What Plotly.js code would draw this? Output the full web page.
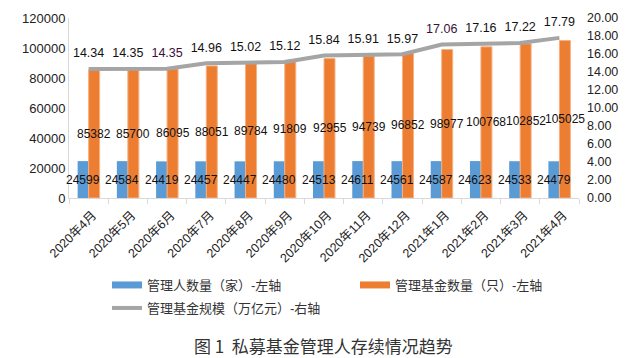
<!DOCTYPE html>
<html>
<head>
<meta charset="utf-8">
<script src="https://cdn.plot.ly/plotly-3.0.1.min.js"></script>
<style>html,body{margin:0;padding:0;background:#fff;}#chart{width:643px;height:358px;}</style>
</head>
<body>
<div id="chart"></div>
<script>
const months = ["2020年4月","2020年5月","2020年6月","2020年7月","2020年8月","2020年9月","2020年10月","2020年11月","2020年12月","2021年1月","2021年2月","2021年3月","2021年4月"];
const managers = [24599,24584,24419,24457,24447,24480,24513,24611,24561,24587,24623,24533,24479];
const funds = [85382,85700,86095,88051,89784,91809,92955,94739,96852,98977,100768,102852,105025];
const scale = [14.34,14.35,14.35,14.96,15.02,15.12,15.84,15.91,15.97,17.06,17.16,17.22,17.79];
const scaleLabelColors = ["#111","#111","#3a0f3a","#111","#111","#111","#111","#111","#111","#3a0f3a","#111","#111","#111"];

const names = ["管理人数量（家）-左轴","管理基金数量（只）-左轴","管理基金规模（万亿元）-右轴"];
const colors = ["#5b9bd5","#ed7d31","#a5a5a5"];
const FONT = "Liberation Sans, Arial, Noto Sans CJK SC, sans-serif";
const LBL = 12;

const traces = [
  {type:"bar", x:months, y:managers, name:names[0], marker:{color:colors[0]}, showlegend:false, hoverinfo:"skip"},
  {type:"bar", x:months, y:funds, name:names[1], marker:{color:colors[1], line:{color:"#f4b183", width:1}}, showlegend:false, hoverinfo:"skip"},
  {type:"scatter", mode:"lines+markers+text", x:months, y:scale, yaxis:"y2", name:names[2],
   line:{color:colors[2], width:4}, marker:{size:12, color:"rgba(0,0,0,0)"}, cliponaxis:false,
   text:scale.map(v=>v.toFixed(2)), textposition:"top center",
   textfont:{color:scaleLabelColors, size:LBL+0.5, family:FONT}, showlegend:false, hoverinfo:"skip"},
  // legend-only entries
  {type:"scatter", mode:"lines", x:[null], y:[null], name:names[0], line:{color:colors[0], width:7}, legend:"legend"},
  {type:"scatter", mode:"lines", x:[null], y:[null], name:names[1], line:{color:colors[1], width:7}, legend:"legend"},
  {type:"scatter", mode:"lines", x:[null], y:[null], name:names[2], line:{color:colors[2], width:4}, legend:"legend2"}
];

// bar value labels, centred in each bar
const barLabels = [];
months.forEach((m, i) => {
  barLabels.push({x:m, y:managers[i]/2, xref:"x", yref:"y", text:String(managers[i]), showarrow:false,
    xshift:-5.5, font:{size:LBL, color:"#111", family:FONT}});
  barLabels.push({x:m, y:funds[i]/2, xref:"x", yref:"y", text:String(funds[i]), showarrow:false,
    xshift:5.5, font:{size:LBL, color:"#111", family:FONT}});
});

const legBase = {orientation:"h", xref:"container", yref:"container", xanchor:"left", yanchor:"middle",
  font:{size:13, color:"#333"}, itemwidth:30, bgcolor:"rgba(0,0,0,0)", borderwidth:0};

const layout = {
  width:643, height:358,
  margin:{l:69, r:64, t:18, b:160},
  paper_bgcolor:"#fff", plot_bgcolor:"#fff",
  font:{family:FONT, size:13, color:"#222"},
  barmode:"group", bargap:0.44, bargroupgap:0,
  xaxis:{type:"category", range:[-0.5, months.length-0.5], tickangle:-45, showgrid:false, showline:true,
         linecolor:"#d9d9d9", linewidth:1, ticks:"outside", tickson:"boundaries", ticklen:5, tickcolor:"#d9d9d9",
         tickfont:{size:12.5, color:"#222"}, zeroline:false, ticklabelstandoff:4, ticklabelshift:4},
  yaxis:{range:[0,120000], dtick:20000, tickformat:"d", showgrid:false, showline:true, linecolor:"#d9d9d9", linewidth:1,
         zeroline:false, ticks:"", tickfont:{size:13, color:"#222"}},
  yaxis2:{range:[0,20], dtick:2, tickformat:".2f", overlaying:"y", side:"right", showgrid:false,
          showline:false, zeroline:false, ticks:"", tickfont:{size:12.5, color:"#222"}, ticklabelstandoff:7},
  showlegend:true,
  legend:Object.assign({}, legBase, {x:107/643, y:1-285/358, entrywidth:203, entrywidthmode:"pixels"}),
  legend2:Object.assign({}, legBase, {x:107/643, y:1-308/358}),
  annotations:barLabels.concat([{text:"图 1  私募基金管理人存续情况趋势", xref:"paper", yref:"paper", showarrow:false,
    x:0.5, xanchor:"center", y:-(345.5-198)/180, yanchor:"middle", xshift:-1,
    font:{size:17, color:"#333", family:"Noto Sans CJK SC, serif"}}])
};

Plotly.newPlot("chart", traces, layout, {displayModeBar:false, staticPlot:true});
</script>
</body>
</html>
